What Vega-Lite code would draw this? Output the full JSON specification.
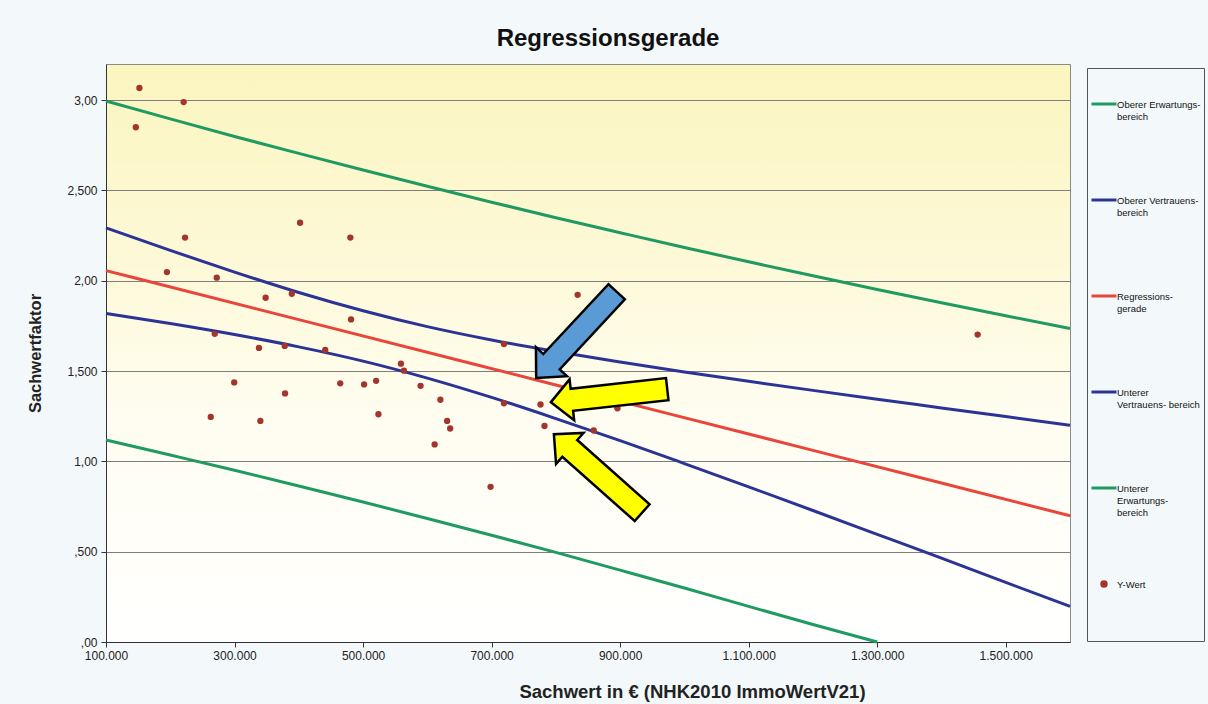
{
  "$schema": "https://vega.github.io/schema/vega-lite/v6.json",
  "autosize": {"type": "none"},
  "padding": {"left": 106, "top": 64, "right": 138, "bottom": 62},
  "width": 964,
  "height": 578,
  "background": "#f3f9fb",
  "title": {
    "text": "Regressionsgerade",
    "font": "Liberation Sans",
    "fontSize": 24,
    "fontWeight": "bold",
    "color": "#111111",
    "anchor": "middle",
    "baseline": "alphabetic",
    "dx": 20,
    "offset": -6
  },
  "config": {
    "locale": {"number": {"decimal": ",", "thousands": ".", "grouping": [3], "currency": ["", " €"]}},
    "font": "Liberation Sans",
    "view": {"stroke": "#8a8a8a", "strokeWidth": 1}
  },
  "view": {
    "fill": {
      "gradient": "linear", "x1": 0, "y1": 0, "x2": 0, "y2": 1,
      "stops": [
        {"offset": 0, "color": "#fbf5bf"},
        {"offset": 0.35, "color": "#fdf9d8"},
        {"offset": 0.6, "color": "#fffdf0"},
        {"offset": 1, "color": "#ffffff"}
      ]
    }
  },
  "layer": [
    {
      "data": {"values": [
        {"series": "Oberer Erwartungsbereich", "sachwert": 100000, "faktor": 2.995},
        {"series": "Oberer Erwartungsbereich", "sachwert": 200000, "faktor": 2.896},
        {"series": "Oberer Erwartungsbereich", "sachwert": 300000, "faktor": 2.799},
        {"series": "Oberer Erwartungsbereich", "sachwert": 400000, "faktor": 2.705},
        {"series": "Oberer Erwartungsbereich", "sachwert": 500000, "faktor": 2.613},
        {"series": "Oberer Erwartungsbereich", "sachwert": 600000, "faktor": 2.523},
        {"series": "Oberer Erwartungsbereich", "sachwert": 700000, "faktor": 2.435},
        {"series": "Oberer Erwartungsbereich", "sachwert": 800000, "faktor": 2.349},
        {"series": "Oberer Erwartungsbereich", "sachwert": 900000, "faktor": 2.266},
        {"series": "Oberer Erwartungsbereich", "sachwert": 1000000, "faktor": 2.184},
        {"series": "Oberer Erwartungsbereich", "sachwert": 1100000, "faktor": 2.105},
        {"series": "Oberer Erwartungsbereich", "sachwert": 1200000, "faktor": 2.028},
        {"series": "Oberer Erwartungsbereich", "sachwert": 1300000, "faktor": 1.952},
        {"series": "Oberer Erwartungsbereich", "sachwert": 1400000, "faktor": 1.878},
        {"series": "Oberer Erwartungsbereich", "sachwert": 1500000, "faktor": 1.806},
        {"series": "Oberer Erwartungsbereich", "sachwert": 1600000, "faktor": 1.736},
        {"series": "Oberer Vertrauensbereich", "sachwert": 100000, "faktor": 2.293},
        {"series": "Oberer Vertrauensbereich", "sachwert": 200000, "faktor": 2.168},
        {"series": "Oberer Vertrauensbereich", "sachwert": 300000, "faktor": 2.048},
        {"series": "Oberer Vertrauensbereich", "sachwert": 400000, "faktor": 1.935},
        {"series": "Oberer Vertrauensbereich", "sachwert": 500000, "faktor": 1.834},
        {"series": "Oberer Vertrauensbereich", "sachwert": 600000, "faktor": 1.746},
        {"series": "Oberer Vertrauensbereich", "sachwert": 700000, "faktor": 1.672},
        {"series": "Oberer Vertrauensbereich", "sachwert": 800000, "faktor": 1.608},
        {"series": "Oberer Vertrauensbereich", "sachwert": 900000, "faktor": 1.550},
        {"series": "Oberer Vertrauensbereich", "sachwert": 1000000, "faktor": 1.495},
        {"series": "Oberer Vertrauensbereich", "sachwert": 1100000, "faktor": 1.443},
        {"series": "Oberer Vertrauensbereich", "sachwert": 1200000, "faktor": 1.393},
        {"series": "Oberer Vertrauensbereich", "sachwert": 1300000, "faktor": 1.344},
        {"series": "Oberer Vertrauensbereich", "sachwert": 1400000, "faktor": 1.296},
        {"series": "Oberer Vertrauensbereich", "sachwert": 1500000, "faktor": 1.248},
        {"series": "Oberer Vertrauensbereich", "sachwert": 1600000, "faktor": 1.200},
        {"series": "Regressionsgerade", "sachwert": 100000, "faktor": 2.056},
        {"series": "Regressionsgerade", "sachwert": 400000, "faktor": 1.785},
        {"series": "Regressionsgerade", "sachwert": 800000, "faktor": 1.423},
        {"series": "Regressionsgerade", "sachwert": 1200000, "faktor": 1.061},
        {"series": "Regressionsgerade", "sachwert": 1600000, "faktor": 0.699},
        {"series": "Unterer Vertrauensbereich", "sachwert": 100000, "faktor": 1.819},
        {"series": "Unterer Vertrauensbereich", "sachwert": 200000, "faktor": 1.763},
        {"series": "Unterer Vertrauensbereich", "sachwert": 300000, "faktor": 1.702},
        {"series": "Unterer Vertrauensbereich", "sachwert": 400000, "faktor": 1.634},
        {"series": "Unterer Vertrauensbereich", "sachwert": 500000, "faktor": 1.555},
        {"series": "Unterer Vertrauensbereich", "sachwert": 600000, "faktor": 1.461},
        {"series": "Unterer Vertrauensbereich", "sachwert": 700000, "faktor": 1.354},
        {"series": "Unterer Vertrauensbereich", "sachwert": 800000, "faktor": 1.237},
        {"series": "Unterer Vertrauensbereich", "sachwert": 900000, "faktor": 1.115},
        {"series": "Unterer Vertrauensbereich", "sachwert": 1000000, "faktor": 0.988},
        {"series": "Unterer Vertrauensbereich", "sachwert": 1100000, "faktor": 0.859},
        {"series": "Unterer Vertrauensbereich", "sachwert": 1200000, "faktor": 0.728},
        {"series": "Unterer Vertrauensbereich", "sachwert": 1300000, "faktor": 0.596},
        {"series": "Unterer Vertrauensbereich", "sachwert": 1400000, "faktor": 0.464},
        {"series": "Unterer Vertrauensbereich", "sachwert": 1500000, "faktor": 0.330},
        {"series": "Unterer Vertrauensbereich", "sachwert": 1600000, "faktor": 0.197},
        {"series": "Unterer Erwartungsbereich", "sachwert": 100000, "faktor": 1.118},
        {"series": "Unterer Erwartungsbereich", "sachwert": 200000, "faktor": 1.035},
        {"series": "Unterer Erwartungsbereich", "sachwert": 300000, "faktor": 0.951},
        {"series": "Unterer Erwartungsbereich", "sachwert": 400000, "faktor": 0.864},
        {"series": "Unterer Erwartungsbereich", "sachwert": 500000, "faktor": 0.775},
        {"series": "Unterer Erwartungsbereich", "sachwert": 600000, "faktor": 0.684},
        {"series": "Unterer Erwartungsbereich", "sachwert": 700000, "faktor": 0.591},
        {"series": "Unterer Erwartungsbereich", "sachwert": 800000, "faktor": 0.496},
        {"series": "Unterer Erwartungsbereich", "sachwert": 900000, "faktor": 0.398},
        {"series": "Unterer Erwartungsbereich", "sachwert": 1000000, "faktor": 0.299},
        {"series": "Unterer Erwartungsbereich", "sachwert": 1100000, "faktor": 0.197},
        {"series": "Unterer Erwartungsbereich", "sachwert": 1200000, "faktor": 0.097},
        {"series": "Unterer Erwartungsbereich", "sachwert": 1300000, "faktor": 0.0}
      ]},
      "mark": {"type": "line", "strokeWidth": 3, "interpolate": "monotone"},
      "encoding": {
        "x": {
          "field": "sachwert", "type": "quantitative",
          "scale": {"domain": [100000, 1600000], "nice": false, "zero": false},
          "axis": {
            "title": "Sachwert in € (NHK2010 ImmoWertV21)",
            "titleFontSize": 18.5, "titleFontWeight": "bold", "titleColor": "#222222",
            "titleX": 586, "titleY": 55, "titleBaseline": "alphabetic", "titleAlign": "center",
            "values": [100000, 300000, 500000, 700000, 900000, 1100000, 1300000, 1500000],
            "format": ",d",
            "labelFontSize": 12, "labelColor": "#222222", "labelPadding": 3, "labelFlush": false,
            "tickSize": 5, "tickColor": "#333333", "domainColor": "#333333", "grid": false
          }
        },
        "y": {
          "field": "faktor", "type": "quantitative",
          "scale": {"domain": [0, 3.2], "nice": false, "zero": false},
          "axis": {
            "title": "Sachwertfaktor",
            "titleFontSize": 16.5, "titleFontWeight": "bold", "titleColor": "#222222",
            "titleX": -71, "titleY": 289, "titleBaseline": "middle", "titleAlign": "center", "titleAngle": -90,
            "values": [0, 0.5, 1, 1.5, 2, 2.5, 3],
            "labelExpr": "datum.value == 0 ? ',00' : datum.value == 0.5 ? ',500' : datum.value == 1 ? '1,00' : datum.value == 1.5 ? '1,500' : datum.value == 2 ? '2,00' : datum.value == 2.5 ? '2,500' : '3,00'",
            "labelFontSize": 12, "labelColor": "#222222", "labelPadding": 4,
            "tickSize": 5, "tickColor": "#333333", "domainColor": "#333333",
            "grid": true, "gridColor": "#7d7d7d", "gridWidth": 1
          }
        },
        "color": {
          "field": "series", "type": "nominal",
          "scale": {
            "domain": ["Oberer Erwartungsbereich", "Oberer Vertrauensbereich", "Regressionsgerade", "Unterer Vertrauensbereich", "Unterer Erwartungsbereich", "Y-Wert"],
            "range": ["#1f9a60", "#2b3494", "#e8463a", "#2b3494", "#1f9a60", "#a3352c"]
          },
          "legend": {
            "orient": "none", "legendX": 981, "legendY": 4,
            "title": " ", "titleFontSize": 9, "titlePadding": 10,
            "strokeColor": "#555555", "padding": 3,
            "labelFont": "Liberation Sans", "labelFontSize": 9.5, "labelColor": "#111111",
            "labelBaseline": "top", "labelOffset": -1,
            "symbolType": "stroke", "symbolSize": 625, "symbolStrokeWidth": 3,
            "rowPadding": 28, "gridAlign": "all",
            "labelExpr": "datum.label == 'Oberer Erwartungsbereich' ? ['Oberer Erwartungs-', 'bereich'] : datum.label == 'Oberer Vertrauensbereich' ? ['Oberer Vertrauens-', 'bereich'] : datum.label == 'Regressionsgerade' ? ['Regressions-', 'gerade'] : datum.label == 'Unterer Vertrauensbereich' ? ['Unterer', 'Vertrauens- bereich'] : datum.label == 'Unterer Erwartungsbereich' ? ['Unterer', 'Erwartungs-', 'bereich'] : ['Y-Wert', '', '', '', '']",
            "encode": {
              "symbols": {"update": {
                "shape": {"signal": "datum.value === 'Y-Wert' ? 'circle' : 'stroke'"},
                "size": {"signal": "datum.value === 'Y-Wert' ? 20 : 625"},
                "fill": {"signal": "datum.value === 'Y-Wert' ? '#a3352c' : 'transparent'"},
                "stroke": {"signal": "datum.value === 'Y-Wert' ? 'transparent' : scale('color', datum.value)"},
                "strokeWidth": {"value": 3},
                "opacity": {"value": 1}
              }},
              "labels": {"update": {"lineHeight": {"value": 12}, "dy": {"value": -4}}}
            }
          }
        },
        "detail": {"field": "series"}
      }
    },
    {
      "data": {"values": [
        {"sachwert": 152000, "faktor": 3.067},
        {"sachwert": 220800, "faktor": 2.989},
        {"sachwert": 146400, "faktor": 2.850},
        {"sachwert": 402000, "faktor": 2.321},
        {"sachwert": 223000, "faktor": 2.239},
        {"sachwert": 480200, "faktor": 2.239},
        {"sachwert": 194800, "faktor": 2.048},
        {"sachwert": 272300, "faktor": 2.017},
        {"sachwert": 348400, "faktor": 1.906},
        {"sachwert": 389100, "faktor": 1.928},
        {"sachwert": 481300, "faktor": 1.786},
        {"sachwert": 269200, "faktor": 1.706},
        {"sachwert": 338000, "faktor": 1.628},
        {"sachwert": 378100, "faktor": 1.639},
        {"sachwert": 441100, "faktor": 1.617},
        {"sachwert": 719200, "faktor": 1.650},
        {"sachwert": 833900, "faktor": 1.922},
        {"sachwert": 558900, "faktor": 1.541},
        {"sachwert": 563600, "faktor": 1.502},
        {"sachwert": 299500, "faktor": 1.437},
        {"sachwert": 464500, "faktor": 1.432},
        {"sachwert": 501600, "faktor": 1.426},
        {"sachwert": 520300, "faktor": 1.446},
        {"sachwert": 589500, "faktor": 1.418},
        {"sachwert": 378600, "faktor": 1.376},
        {"sachwert": 620300, "faktor": 1.341},
        {"sachwert": 719200, "faktor": 1.322},
        {"sachwert": 776100, "faktor": 1.315},
        {"sachwert": 895800, "faktor": 1.294},
        {"sachwert": 263000, "faktor": 1.246},
        {"sachwert": 340200, "faktor": 1.224},
        {"sachwert": 523900, "faktor": 1.261},
        {"sachwert": 630800, "faktor": 1.224},
        {"sachwert": 635500, "faktor": 1.182},
        {"sachwert": 782300, "faktor": 1.196},
        {"sachwert": 858900, "faktor": 1.171},
        {"sachwert": 611400, "faktor": 1.094},
        {"sachwert": 698400, "faktor": 0.859},
        {"sachwert": 1456300, "faktor": 1.702}
      ]},
      "mark": {"type": "circle", "size": 40, "opacity": 1},
      "encoding": {
        "x": {"field": "sachwert", "type": "quantitative"},
        "y": {"field": "faktor", "type": "quantitative"},
        "color": {"datum": "Y-Wert", "type": "nominal"}
      }
    },
    {
      "data": {"values": [{"sachwert": 832000, "faktor": 1.700}]},
      "mark": {"type": "point", "shape": "M1,0L0.62,-0.36L0.62,-0.19L-1,-0.19L-1,0.19L0.62,0.19L0.62,0.36Z", "angle": 133, "size": 13924, "filled": true, "fill": "#5b9bd5", "stroke": "#000000", "strokeWidth": 2.5, "opacity": 1},
      "encoding": {
        "x": {"field": "sachwert", "type": "quantitative"},
        "y": {"field": "faktor", "type": "quantitative"}
      }
    },
    {
      "data": {"values": [{"sachwert": 882800, "faktor": 1.364}]},
      "mark": {"type": "point", "shape": "M1,0L0.64,-0.35L0.64,-0.19L-1,-0.19L-1,0.19L0.64,0.19L0.64,0.35Z", "angle": 173.6, "size": 13700, "filled": true, "fill": "#ffff00", "stroke": "#000000", "strokeWidth": 2.5, "opacity": 1},
      "encoding": {
        "x": {"field": "sachwert", "type": "quantitative"},
        "y": {"field": "faktor", "type": "quantitative"}
      }
    },
    {
      "data": {"values": [{"sachwert": 865600, "faktor": 0.933}]},
      "mark": {"type": "point", "shape": "M1,0L0.64,-0.35L0.64,-0.19L-1,-0.19L-1,0.19L0.64,0.19L0.64,0.35Z", "angle": 221.6, "size": 13924, "filled": true, "fill": "#ffff00", "stroke": "#000000", "strokeWidth": 2.5, "opacity": 1},
      "encoding": {
        "x": {"field": "sachwert", "type": "quantitative"},
        "y": {"field": "faktor", "type": "quantitative"}
      }
    }
  ]
}
